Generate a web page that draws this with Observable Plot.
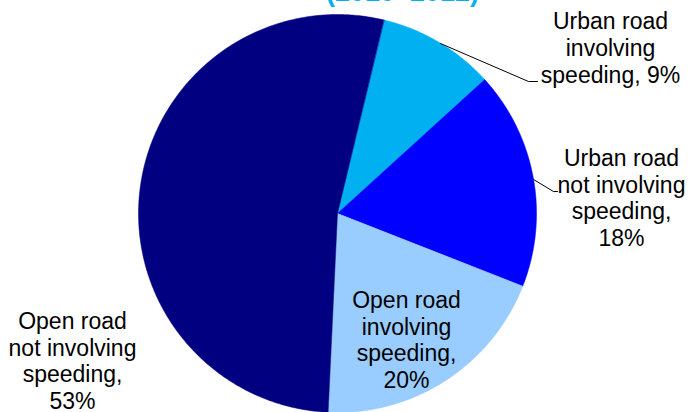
<!DOCTYPE html>
<html>
<head>
<meta charset="utf-8">
<script src="https://cdn.jsdelivr.net/npm/d3@7"></script>
<script src="https://cdn.jsdelivr.net/npm/@observablehq/plot@0.6"></script>
<style>
  html, body { margin: 0; padding: 0; background: #fff; }
  #chart { width: 688px; height: 412px; overflow: hidden; }
</style>
</head>
<body>
<div id="chart"></div>
<script>
// ---- data ----
const categories = [
  "Urban road involving speeding",
  "Urban road not involving speeding",
  "Open road involving speeding",
  "Open road not involving speeding"
];
const values = [9.5, 17.7, 19.8, 53.0];
const labels = [
  "Urban road\ninvolving\nspeeding, 9%",
  "Urban road\nnot involving\nspeeding,\n18%",
  "Open road\ninvolving\nspeeding,\n20%",
  "Open road\nnot involving\nspeeding,\n53%"
];
const colors = ["#00B0F0", "#0000FF", "#99CCFF", "#000080"];
const titleText = "(2010–2012)";

// ---- layout (pixels) ----
const W = 688, H = 412;
const cx = 337, cy = 213, R = 199;
const startDeg = 13.5;
// label block centres in px
const labelPos = [[610, 47], [621, 197], [406, 339], [72, 360]];
const leaders = [
  [[440, 43], [528, 81], [537, 81]],
  [[533, 179], [553, 191], [557, 191]]
];
const toU = ([px, py]) => [(px - cx) / R, (cy - py) / R];

// pie geometry in unit space
const pie = d3.pie().sort(null).value(d => d)
  .startAngle(startDeg * Math.PI / 180)
  .endAngle(startDeg * Math.PI / 180 + 2 * Math.PI);
const arcs = pie(values);
const slicePts = [];
arcs.forEach((a, i) => {
  const key = categories[i];
  slicePts.push({key, x: 0, y: 0});
  const n = Math.max(8, Math.ceil((a.endAngle - a.startAngle) / 0.01));
  for (let k = 0; k <= n; k++) {
    const t = a.startAngle + (a.endAngle - a.startAngle) * k / n;
    slicePts.push({key, x: Math.sin(t), y: Math.cos(t)});
  }
});

const labelData = labels.map((t, i) => {
  const [x, y] = toU(labelPos[i]);
  return {text: t, x, y};
});
const leaderData = leaders.flatMap((pts, i) => pts.map(p => {
  const [x, y] = toU(p);
  return {id: i, x, y};
}));
const [tx, ty] = toU([402, 0.8]);

const plot = Plot.plot({
  width: W,
  height: H,
  margin: 0,
  x: {domain: [-cx / R, (W - cx) / R], axis: null},
  y: {domain: [(cy - H) / R, cy / R], axis: null},
  color: {type: "ordinal", domain: categories, range: colors},
  style: {fontFamily: "'Liberation Sans', Arial, sans-serif", background: "#fff"},
  marks: [
    Plot.line(slicePts, {x: "x", y: "y", z: "key", fill: "key", stroke: "key", strokeWidth: 0.5, curve: "linear-closed"}),
    Plot.line(leaderData, {x: "x", y: "y", z: "id", stroke: "#000", strokeWidth: 1}),
    Plot.text(labelData, {x: "x", y: "y", text: "text", fontSize: 23, lineHeight: 1.16, fill: "#000", textAnchor: "middle", lineAnchor: "middle"}),
    Plot.text([titleText], {x: () => tx, y: () => ty, text: d => d, fontSize: 27, fontWeight: "bold", fill: "#00B0F0", textAnchor: "middle", lineAnchor: "bottom"})
  ]
});
document.getElementById("chart").appendChild(plot);
</script>
</body>
</html>
